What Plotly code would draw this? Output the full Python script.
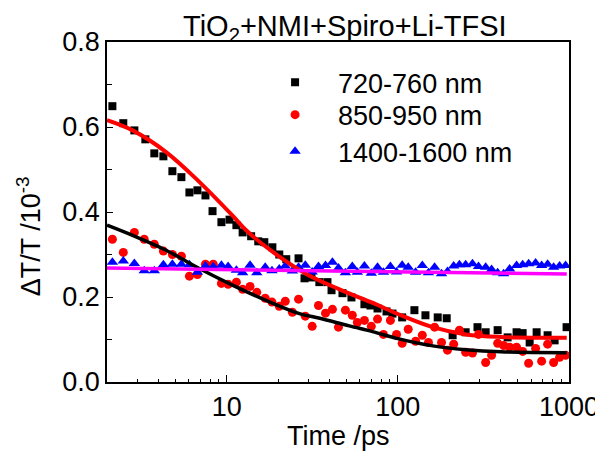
import plotly.graph_objects as go

# ---------------- data ----------------
t_sq = [2.15, 2.49, 2.89, 3.35, 3.78, 4.27, 4.82, 5.44, 6.06, 6.75, 7.52, 8.27, 9.32, 10.4, 11.4,
        12.4, 13.9, 15.3, 16.6, 18.5, 20.3, 22.3, 26.3, 28.5, 31.3, 34.8, 38.8, 41.0, 47.5, 53.6,
        63.8, 69.2, 76.1, 85.9, 93.1, 106, 125, 145, 171, 193, 209, 249, 292, 326, 383, 438, 494,
        536, 589, 647, 750, 824, 968]
v_sq = [0.649, 0.609, 0.592, 0.571, 0.538, 0.531, 0.496, 0.482, 0.446, 0.451, 0.439, 0.402, 0.376,
        0.382, 0.369, 0.352, 0.343, 0.331, 0.329, 0.317, 0.300, 0.289, 0.291, 0.244, 0.246, 0.235,
        0.235, 0.216, 0.209, 0.199, 0.183, 0.180, 0.173, 0.166, 0.161, 0.152, 0.169, 0.157, 0.152,
        0.150, 0.110, 0.117, 0.129, 0.117, 0.122, 0.105, 0.117, 0.115, 0.093, 0.117, 0.110, 0.098,
        0.129]

t_ci = [2.15, 2.49, 2.89, 3.30, 3.78, 4.27, 4.82, 5.44, 6.06, 6.75, 7.52, 8.35, 9.32, 10.2, 11.4,
        12.4, 13.7, 15.0, 16.8, 18.4, 20.3, 22.0, 24.2, 26.3, 28.8, 31.6, 34.4, 37.8, 41.5, 45.0,
        49.4, 54.2, 58.0, 63.8, 70.0, 76.1, 82.4, 90.5, 98.3, 106, 115, 127, 139, 151, 164, 180,
        195, 212, 229, 249, 273, 296, 326, 353, 383, 415, 450, 494, 536, 581, 638, 692, 750, 813,
        881, 955]
v_ci = [0.336, 0.305, 0.352, 0.336, 0.324, 0.308, 0.300, 0.296, 0.249, 0.253, 0.277, 0.277, 0.232,
        0.230, 0.235, 0.218, 0.225, 0.211, 0.197, 0.188, 0.178, 0.190, 0.164, 0.195, 0.155, 0.131,
        0.180, 0.162, 0.171, 0.129, 0.169, 0.157, 0.140, 0.145, 0.131, 0.148, 0.112, 0.145, 0.112,
        0.091, 0.124, 0.096, 0.110, 0.093, 0.129, 0.093, 0.075, 0.089, 0.122, 0.070, 0.068, 0.112,
        0.046, 0.063, 0.091, 0.086, 0.082, 0.082, 0.072, 0.044, 0.079, 0.049, 0.089, 0.046, 0.058,
        0.063]

t_tr = t_ci
v_tr = [0.282, 0.285, 0.279, 0.262, 0.262, 0.276, 0.277, 0.277, 0.276, 0.258, 0.273, 0.271, 0.275,
        0.272, 0.263, 0.257, 0.275, 0.257, 0.270, 0.262, 0.266, 0.273, 0.261, 0.270, 0.275, 0.259,
        0.272, 0.274, 0.282, 0.268, 0.257, 0.272, 0.258, 0.273, 0.256, 0.270, 0.258, 0.272, 0.259,
        0.275, 0.270, 0.258, 0.274, 0.257, 0.270, 0.255, 0.260, 0.273, 0.276, 0.276, 0.278, 0.272,
        0.270, 0.265, 0.257, 0.255, 0.266, 0.274, 0.276, 0.278, 0.280, 0.274, 0.277, 0.270, 0.273,
        0.274]

# fitted curves
t_fit_sq = [2.0, 2.82, 4.43, 6.92, 10.8, 13.0, 18.6, 29.0, 45.6, 71.5, 100, 160, 250, 400, 970]
v_fit_sq = [0.616, 0.592, 0.541, 0.471, 0.392, 0.357, 0.306, 0.255, 0.218, 0.186, 0.160, 0.129,
            0.112, 0.106, 0.104]
t_fit_ci = [2.0, 2.82, 4.43, 6.92, 10.8, 17.0, 26.6, 35.0, 52.0, 72.0, 100, 160, 250, 400, 970]
v_fit_ci = [0.369, 0.345, 0.310, 0.267, 0.228, 0.192, 0.161, 0.150, 0.132, 0.118, 0.102, 0.085,
            0.076, 0.071, 0.069]
t_fit_tr = [2.0, 970]
v_fit_tr = [0.268, 0.254]

series_names = ["720-760 nm", "850-950 nm", "1400-1600 nm"]
x_tickvals = [10, 100, 1000]
x_minor = [3, 4, 5, 6, 7, 8, 9, 20, 30, 40, 50, 60, 70, 80, 90, 200, 300, 400, 500, 600, 700, 800, 900]

FONT = "Liberation Sans, Arial, Helvetica, sans-serif"
FS = 27

fig = go.Figure()
fig.add_trace(go.Scatter(x=t_sq, y=v_sq, mode="markers", name=series_names[0], legend="legend",
                         marker=dict(symbol="square", size=8, color="#000000")))
fig.add_trace(go.Scatter(x=t_ci, y=v_ci, mode="markers", name=series_names[1], legend="legend2",
                         marker=dict(symbol="circle", size=9, color="#ff0000")))
fig.add_trace(go.Scatter(x=t_tr, y=v_tr, mode="markers", name=series_names[2], legend="legend3",
                         marker=dict(symbol="triangle-up", size=10, color="#0000ff")))
fig.add_trace(go.Scatter(x=t_fit_sq, y=v_fit_sq, mode="lines", showlegend=False,
                         line=dict(color="#ff0000", width=4, shape="spline")))
fig.add_trace(go.Scatter(x=t_fit_ci, y=v_fit_ci, mode="lines", showlegend=False,
                         line=dict(color="#000000", width=3.5, shape="spline")))
fig.add_trace(go.Scatter(x=t_fit_tr, y=v_fit_tr, mode="lines", showlegend=False,
                         line=dict(color="#ff00ff", width=3.5)))


def legend_box(yc):
    return dict(x=0.314, y=yc, xanchor="left", yanchor="middle",
                bgcolor="rgba(0,0,0,0)", font=dict(size=FS), itemwidth=76)


# page body has an 8 px default margin, so the figure is 8 px smaller and margins compensate
fig.update_layout(
    width=595, height=446,
    margin=dict(l=99, r=34, t=34, b=72, autoexpand=False),
    paper_bgcolor="white", plot_bgcolor="white",
    font=dict(family=FONT, size=FS, color="black"),
    showlegend=True,
    legend=legend_box(0.880),
    legend2=legend_box(0.785),
    legend3=legend_box(0.677),
    xaxis=dict(type="log", range=[0.30103, 3], tickvals=x_tickvals,
               ticktext=[str(v) for v in x_tickvals],
               ticks="inside", ticklen=7, tickwidth=1.3, tickcolor="black",
               minor=dict(tickvals=x_minor, ticks="inside", ticklen=3.5, tickwidth=1, tickcolor="black"),
               showline=True, linecolor="black", linewidth=1.5, mirror=True,
               showgrid=False, zeroline=False, tickfont=dict(size=FS)),
    yaxis=dict(range=[0, 0.8], dtick=0.2, tick0=0, tickformat=".1f",
               ticks="inside", ticklen=6, tickwidth=1.3, tickcolor="black",
               minor=dict(dtick=0.1, ticks="inside", ticklen=5, tickwidth=1, tickcolor="black"),
               showline=True, linecolor="black", linewidth=1.5, mirror=True,
               showgrid=False, zeroline=False, tickfont=dict(size=FS)),
    annotations=[
        dict(text="TiO<sub>2</sub>+NMI+Spiro+Li-TFSI", xref="paper", yref="paper",
             x=0.515, y=0.982, xanchor="center", yanchor="bottom", showarrow=False,
             font=dict(size=29)),
        dict(text="Time /ps", xref="paper", yref="paper", x=0.50, y=-0.11,
             xanchor="center", yanchor="top", showarrow=False, font=dict(size=FS)),
        dict(text="ΔT/T /10<sup>-3</sup>", xref="paper", yref="paper", x=-0.17, y=0.43,
             xanchor="center", yanchor="middle", textangle=-90, showarrow=False,
             font=dict(size=FS)),
    ],
)

fig.write_html("out.html")
